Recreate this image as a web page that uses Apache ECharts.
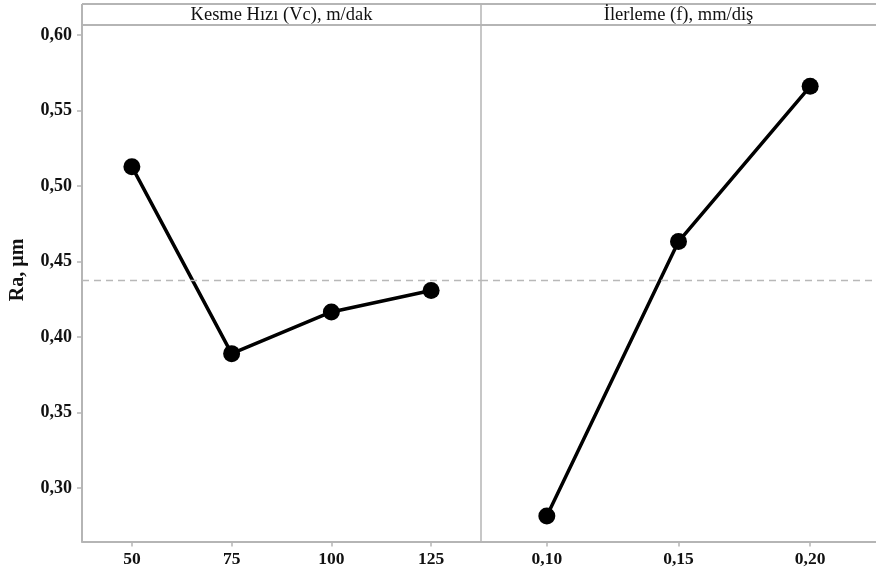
<!DOCTYPE html>
<html>
<head>
<meta charset="utf-8">
<script src="https://cdn.jsdelivr.net/npm/echarts@6/dist/echarts.min.js"></script>
<style>html,body{margin:0;padding:0;background:#fff;}#c{width:876px;height:575px;}</style>
</head>
<body>
<div id="c"></div>
<script>
const panelTitles = ['Kesme Hızı (Vc), m/dak', 'İlerleme (f), mm/diş'];
const yAxisTitle = 'Ra, µm';
const speedLevels = [50, 75, 100, 125];
const speedRa = [0.5128, 0.389, 0.4166, 0.4308];
const feedLevels = [0.10, 0.15, 0.20];
const feedRa = [0.2815, 0.4632, 0.566];
const yTicks = [0.30, 0.35, 0.40, 0.45, 0.50, 0.55, 0.60];

const meanRa = speedRa.reduce((a, b) => a + b, 0) / speedRa.length;

const FONT = '"Liberation Serif", "Times New Roman", serif';
const GREY = '#b5b5b5';
const comma = (v, d) => Number(v).toFixed(d).replace('.', ',');

const chart = echarts.init(document.getElementById('c'), null, {renderer: 'canvas'});

const yMin = 0.2646, yMax = 0.6066;

function yAx(idx, show) {
  return {
    type: 'value', gridIndex: idx, min: yMin, max: yMax,
    splitLine: {show: false},
    axisLine: {show: show, lineStyle: {color: GREY, width: 2}},
    axisTick: {show: show, length: 5, lineStyle: {color: GREY, width: 1.5}, customValues: yTicks},
    axisLabel: {show: show, margin: 10, customValues: yTicks, formatter: v => comma(v, 2),
      fontFamily: FONT, fontWeight: 'bold', fontSize: 18, color: '#111'}
  };
}
function xAx(idx, min, max, ticks, dec) {
  return {
    type: 'value', gridIndex: idx, min: min, max: max,
    splitLine: {show: false},
    axisLine: {show: true, onZero: false, lineStyle: {color: GREY, width: 2}},
    axisTick: {show: true, length: 5, lineStyle: {color: GREY, width: 1.5}, customValues: ticks},
    axisLabel: {show: true, margin: 9, customValues: ticks,
      formatter: v => dec ? comma(v, dec) : String(v),
      fontFamily: FONT, fontWeight: 'bold', fontSize: 17.5, color: '#111'}
  };
}
function series(idx, xs, ys) {
  return {
    type: 'line', xAxisIndex: idx, yAxisIndex: idx,
    data: xs.map((x, i) => [x, ys[i]]),
    symbol: 'circle', symbolSize: 17,
    itemStyle: {color: '#000'},
    lineStyle: {color: '#000', width: 3.5},
    animation: false, silent: true,
    markLine: {
      silent: true, symbol: 'none', label: {show: false}, animation: false, precision: 6,
      lineStyle: {color: '#b8b8b8', type: [7, 5], width: 1.3},
      data: [{yAxis: meanRa}]
    }
  };
}

const option = {
  backgroundColor: '#fff',
  animation: false,
  grid: [
    {left: 82, top: 25, width: 399, height: 516.5},
    {left: 481, top: 25, width: 400, height: 516.5}
  ],
  xAxis: [
    xAx(0, 37.5, 137.5, speedLevels, 0),
    xAx(1, 0.075, 0.225, feedLevels, 2)
  ],
  yAxis: [yAx(0, true), yAx(1, false)],
  series: [series(0, speedLevels, speedRa), series(1, feedLevels, feedRa)],
  graphic: [
    {type: 'line', shape: {x1: 82, y1: 4, x2: 880, y2: 4}, style: {stroke: GREY, lineWidth: 2}},
    {type: 'line', shape: {x1: 82, y1: 25, x2: 880, y2: 25}, style: {stroke: GREY, lineWidth: 2}},
    {type: 'line', shape: {x1: 82, y1: 4, x2: 82, y2: 541}, style: {stroke: GREY, lineWidth: 2}},
    {type: 'line', shape: {x1: 481, y1: 4, x2: 481, y2: 541}, style: {stroke: GREY, lineWidth: 1.5}},
    {type: 'text', x: 281.5, y: 15, style: {text: panelTitles[0], fontFamily: FONT, fontSize: 18.5,
      fill: '#111', align: 'center', verticalAlign: 'middle'}},
    {type: 'text', x: 678.5, y: 15, style: {text: panelTitles[1], fontFamily: FONT, fontSize: 18.5,
      fill: '#111', align: 'center', verticalAlign: 'middle'}},
    {type: 'text', x: 18, y: 270, rotation: Math.PI / 2,
      style: {text: yAxisTitle, fontFamily: FONT, fontWeight: 'bold', fontSize: 20,
        fill: '#111', align: 'center', verticalAlign: 'middle'}}
  ]
};
chart.setOption(option);
</script>
</body>
</html>
